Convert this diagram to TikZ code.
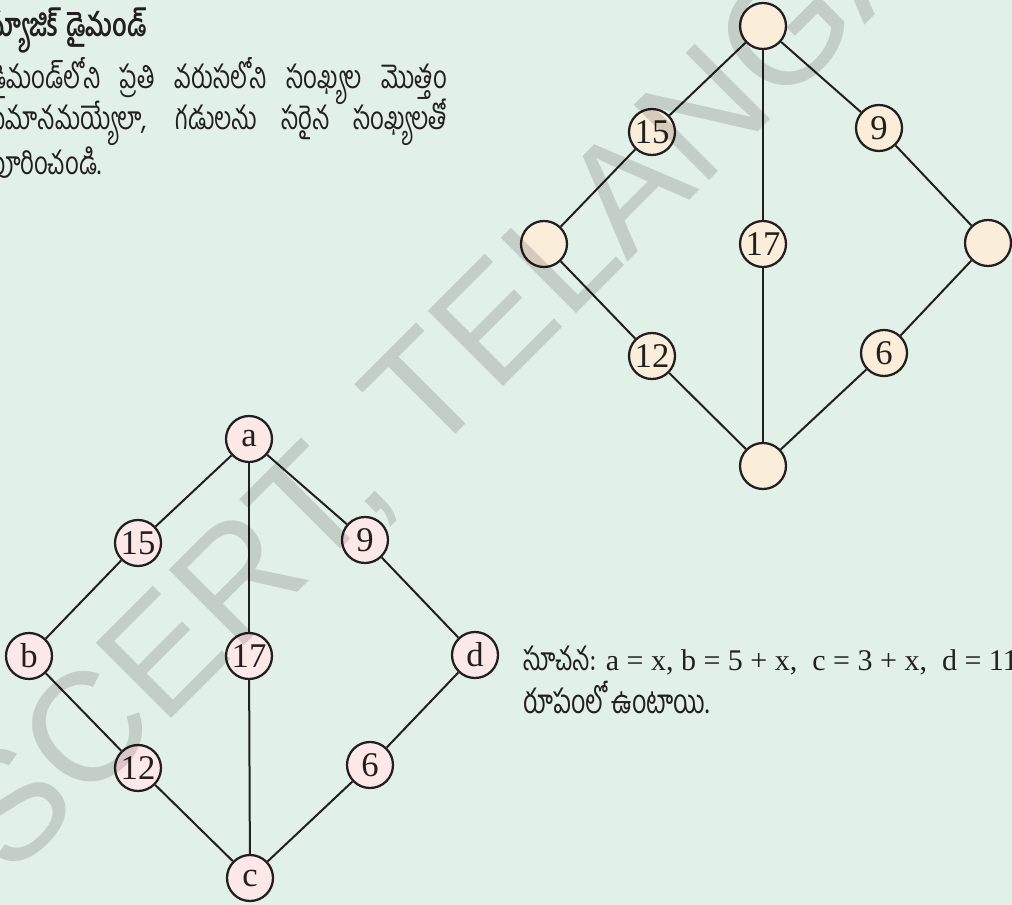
\documentclass[tikz,border=0pt]{standalone}
\usepackage{fontspec}
\setmainfont{Liberation Serif}
\newfontfamily\tel[Script=Telugu,FakeStretch=0.75]{Hind Guntur}
\newfontfamily\wmfont{Liberation Sans}
\definecolor{bg}{HTML}{E2F1E7}
\definecolor{creamfill}{HTML}{FAEDD9}
\definecolor{pinkfill}{HTML}{FDE8E8}
\definecolor{ink}{HTML}{231F20}
\begin{document}
\begin{tikzpicture}[x=0.75pt,y=-0.75pt,
  circ/.style={circle, draw=ink, line width=1.7pt, minimum size=34.5pt, inner sep=0pt,
    text=ink, font=\fontsize{26}{26}\selectfont},
  cream/.style={circ, fill=creamfill},
  pink/.style={circ, fill=pinkfill},
  link/.style={draw=ink, line width=1.5pt},
  teltext/.style={anchor=base west, inner sep=0pt, text=ink, font=\tel\fontsize{24}{28}\selectfont},
  hint/.style={anchor=base west, inner sep=0pt, text=ink, font=\fontsize{22.5}{26}\selectfont}]
\useasboundingbox (0,0) rectangle (1012,905);
\clip (0,0) rectangle (1012,905);
\fill[bg] (0,0) rectangle (1012,905);

% texts
\node[teltext, font=\tel\bfseries\fontsize{24}{28}\selectfont] (title) at (-14,37) {మ్యాజిక్ డైమండ్};
\node[teltext] (l1) at (-12,89) {\makebox[344pt][s]{డైమండ్‌లోని ప్రతి వరుసలోని సంఖ్యల మొత్తం}};
\node[teltext] (l2) at (-12,130) {\makebox[344pt][s]{సమానమయ్యేలా, గడులను సరైన సంఖ్యలతో}};
\node[teltext] (l3) at (-12,175) {పూరించండి.};

\node[hint] (h1) at (523,670) {{\tel\fontsize{24}{28}\selectfont సూచన:} a = x, b = 5 + x,\ \ c = 3 + x,\ \ d = 11 + x};
\node[teltext, font=\tel\fontsize{25}{28}\selectfont] (h2) at (523,713) {రూపంలో ఉంటాయి.};

% top diamond
\node[cream] (t) at (763,26) {};
\node[cream] (t15) at (652,132) {15};
\node[cream] (t9) at (879,128) {9};
\node[cream] (tl) at (544,244) {};
\node[cream] (t17) at (763,244) {17};
\node[cream] (tr) at (988,243) {};
\node[cream] (t12) at (652,356) {12};
\node[cream] (t6) at (884,353) {6};
\node[cream] (tb) at (763,466) {};
\draw[link] (t) -- (t15);
\draw[link] (t15) -- (tl);
\draw[link] (tl) -- (t12);
\draw[link] (t12) -- (tb);
\draw[link] (t) -- (t9);
\draw[link] (t9) -- (tr);
\draw[link] (tr) -- (t6);
\draw[link] (t6) -- (tb);
\draw[link] (t) -- (t17);
\draw[link] (t17) -- (tb);

% bottom diamond
\node[pink] (a) at (249,439) {a};
\node[pink] (b15) at (138,543) {15};
\node[pink] (b9) at (365,540) {9};
\node[pink] (b) at (29,656) {b};
\node[pink] (b17) at (249,656) {17};
\node[pink] (d) at (475,655) {d};
\node[pink] (b12) at (138,768) {12};
\node[pink] (b6) at (370,765) {6};
\node[pink] (c) at (250,878) {c};
\draw[link] (a) -- (b15);
\draw[link] (b15) -- (b);
\draw[link] (b) -- (b12);
\draw[link] (b12) -- (c);
\draw[link] (a) -- (b9);
\draw[link] (b9) -- (d);
\draw[link] (d) -- (b6);
\draw[link] (b6) -- (c);
\draw[link] (a) -- (b17);
\draw[link] (b17) -- (c);

% watermark
\node[anchor=base west, inner sep=0pt, rotate=45, text=black, text opacity=0.14,
  font=\wmfont\fontsize{116}{116}\selectfont] (wm) at (10,880) {SCERT, TELANGANA};
\end{tikzpicture}
\end{document}
